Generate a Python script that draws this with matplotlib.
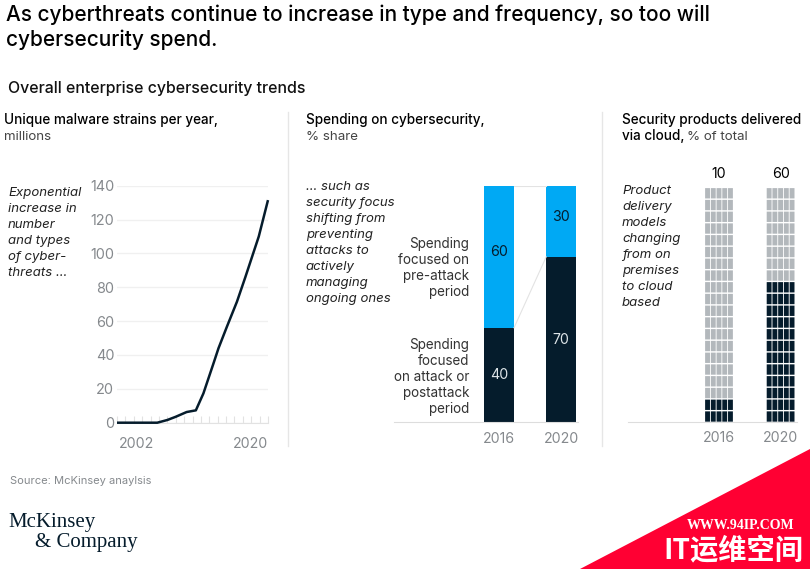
import matplotlib
matplotlib.use("Agg")
import matplotlib.pyplot as plt
from matplotlib.patches import Polygon

W, H = 810, 569
DARK = "#051C2C"
CYAN = "#00A9F4"
CELL = "#B3B8BC"
GRAY = "#85898D"
RULE = "#E6E6E6"
RED = "#FF0033"

plt.rcParams.update({
    "font.family": ["Inter", "DejaVu Sans"],
    "font.size": 10,
})

# Малварь, млн в год
malware_years = [2002, 2006.8, 2008, 2009, 2010.3, 2011.4, 2012.3, 2013.5,
                 2014.1, 2015.1, 2016.3, 2017.3, 2018.9, 2020]
malware_vals = [0, 0, 1.6, 3.5, 6.3, 7.3, 17.3, 35, 44, 56.7, 71.5, 86, 110, 131.5]
malware_ticks = [0, 20, 40, 60, 80, 100, 120, 140]

# Расходы, %
spend_years = ["2016", "2020"]
spend_attack = [40, 70]
spend_pre = [60, 30]

# Облако, % от общего
cloud_years = ["2016", "2020"]
cloud_share = [10, 60]
cloud_rows = 20
cloud_cols = 5

fig = plt.figure(figsize=(W / 100, H / 100), dpi=100, facecolor="white")


def px_axes(left, top, right, bottom):
    ax = fig.add_axes([left / W, 1 - bottom / H, (right - left) / W, (bottom - top) / H])
    ax.patch.set_alpha(0)
    for s in ax.spines.values():
        s.set_visible(False)
    return ax


def txt(x, y, s, step=16, **kw):
    # y - базовая линия первой строки в пикселях
    kw.setdefault("va", "baseline")
    for i, line in enumerate(s.split("\n")):
        fig.text(x / W, 1 - (y + i * step) / H, line, **kw)


def note(x, y, s):
    txt(x, y, s, fontsize=9.5, style="italic", color="#222222")


# Заголовки
txt(6, 21, "As cyberthreats continue to increase in type and frequency, so too will\ncybersecurity spend.",
    step=25.5, fontsize=15, fontweight="medium", color="black")
txt(8, 93, "Overall enterprise cybersecurity trends", fontsize=11.45, fontweight="medium", color="#111111")

txt(4, 124, "Unique malware strains per year,", fontsize=9.75, fontweight="medium", color="black")
txt(4, 140, "millions", fontsize=9.6, color="#444444")
txt(306, 124, "Spending on cybersecurity,", fontsize=9.75, fontweight="medium", color="black")
txt(306, 140, "% share", fontsize=9.6, color="#444444")
txt(622, 124, "Security products delivered", fontsize=9.75, fontweight="medium", color="black")
txt(622, 140, "via cloud,", fontsize=9.75, fontweight="medium", color="black")
txt(687, 140, "% of total", fontsize=9.6, color="#444444")

# Разделители колонок
for xp in (288, 602):
    fig.add_artist(plt.Line2D([xp / W, xp / W], [1 - 112 / H, 1 - 446 / H], color=RULE, lw=1))

# --- График 1
ax = px_axes(117, 185.7, 268, 422.7)
ax.plot(malware_years, malware_vals, color=DARK, lw=1.8, solid_capstyle="butt", clip_on=False, zorder=3)
ax.set_xlim(2002, 2020)
ax.set_ylim(0, 140)
ax.set_yticks(malware_ticks)
ax.set_xticks(range(2002, 2021))
ax.set_xticklabels([])
ax.grid(axis="y", color="#F0F0F0", lw=1)
ax.set_axisbelow(True)
ax.tick_params(axis="y", length=0, pad=2, labelsize=10.4, labelcolor=GRAY)
ax.tick_params(axis="x", direction="in", length=5, width=0.8, color="#E2E2E2", top=False)
ax.spines["bottom"].set_visible(True)
ax.spines["bottom"].set_color("#E2E2E2")
txt(119, 448, "2002", fontsize=10.2, color=GRAY)
txt(268, 448, "2020", fontsize=10.2, color=GRAY, ha="right")
note(8, 196, "Exponential\nincrease in\nnumber\nand types\nof cyber-\nthreats ...")

# --- График 2
ax = px_axes(394, 186, 578, 422.3)
ax.bar([0, 1], spend_attack, width=0.48, color=DARK)
ax.bar([0, 1], spend_pre, width=0.48, bottom=spend_attack, color=CYAN)
ax.plot([0.24, 0.76], [spend_attack[0], spend_attack[1]], color="#E3E3E3", lw=0.8)
ax.plot([0.24, 0.76], [100, 100], color="#E3E3E3", lw=0.8)
ax.set_xlim(-1.702, 1.275)
ax.set_ylim(0, 100)
ax.set_yticks([])
ax.set_xticks([0, 1])
ax.set_xticklabels(spend_years)
ax.tick_params(axis="x", length=0, pad=7, labelsize=10.2, labelcolor=GRAY)
ax.spines["bottom"].set_visible(True)
ax.spines["bottom"].set_color("#DDDDDD")
# подписи стоят не по центру сегментов, как в оригинале
ax.text(0, 20, str(spend_attack[0]), color="#DDE4E8", ha="center", va="center", fontsize=10.2)
ax.text(1, 35, str(spend_attack[1]), color="#DDE4E8", ha="center", va="center", fontsize=10.2)
ax.text(0, 72, str(spend_pre[0]), color=DARK, ha="center", va="center", fontsize=10.2)
ax.text(1, 87, str(spend_pre[1]), color=DARK, ha="center", va="center", fontsize=10.2)

note(306, 190, "... such as\nsecurity focus\nshifting from\npreventing\nattacks to\nactively\nmanaging\nongoing ones")
txt(469, 248, "Spending\nfocused on\npre-attack\nperiod", fontsize=9.7, color="#333333", ha="right")
txt(469, 349, "Spending\nfocused\non attack or\npostattack\nperiod", fontsize=9.7, color="#333333", ha="right")

# --- График 3
ax = px_axes(628, 186.7, 797, 421.7)
cw = 0.093
for i, share in enumerate(cloud_share):
    for row in range(cloud_rows):
        filled = (row + 1) * 100 / cloud_rows <= share
        for c in range(cloud_cols):
            ax.bar(i + (c - 2) * cw, 100 / cloud_rows - 0.6, bottom=row * 100 / cloud_rows,
                   width=cw * 0.85, color=DARK if filled else CELL, snap=False, lw=0)
    ax.text(i, 105.2, str(share), ha="center", va="center", fontsize=10.2, color="black")
ax.set_xlim((628 - 719) / 61.6, (797 - 719) / 61.6)
ax.set_ylim(0, 100)
ax.set_yticks([])
ax.set_xticks([0, 1])
ax.set_xticklabels(cloud_years)
ax.tick_params(axis="x", length=0, pad=7, labelsize=10.2, labelcolor=GRAY)
ax.spines["bottom"].set_visible(True)
ax.spines["bottom"].set_color("#DDDDDD")
note(622, 194, "Product\ndelivery\nmodels\nchanging\nfrom on\npremises\nto cloud\nbased")

# Подвал
txt(10, 484, "Source: McKinsey anaylsis", fontsize=8, color=GRAY)
txt(8, 527, "McKinsey", fontsize=15, family="Liberation Serif", color=DARK)
txt(35, 547, "& Company", fontsize=15, family="Liberation Serif", color=DARK)

# Водяной знак
fig.add_artist(Polygon([(810 / W, 1 - 449 / H), (810 / W, 0), (580 / W, 0)],
                       closed=True, transform=fig.transFigure, color=RED, lw=0))
txt(741, 529, "WWW.94IP.COM", fontsize=10, family="Liberation Serif", fontweight="bold", color="white", ha="center")
txt(733.5, 559, "IT运维空间", fontsize=20.3, family=["Noto Sans CJK SC", "DejaVu Sans"], fontweight="bold",
    color="white", ha="center")

fig.savefig("out.png", dpi=100)
